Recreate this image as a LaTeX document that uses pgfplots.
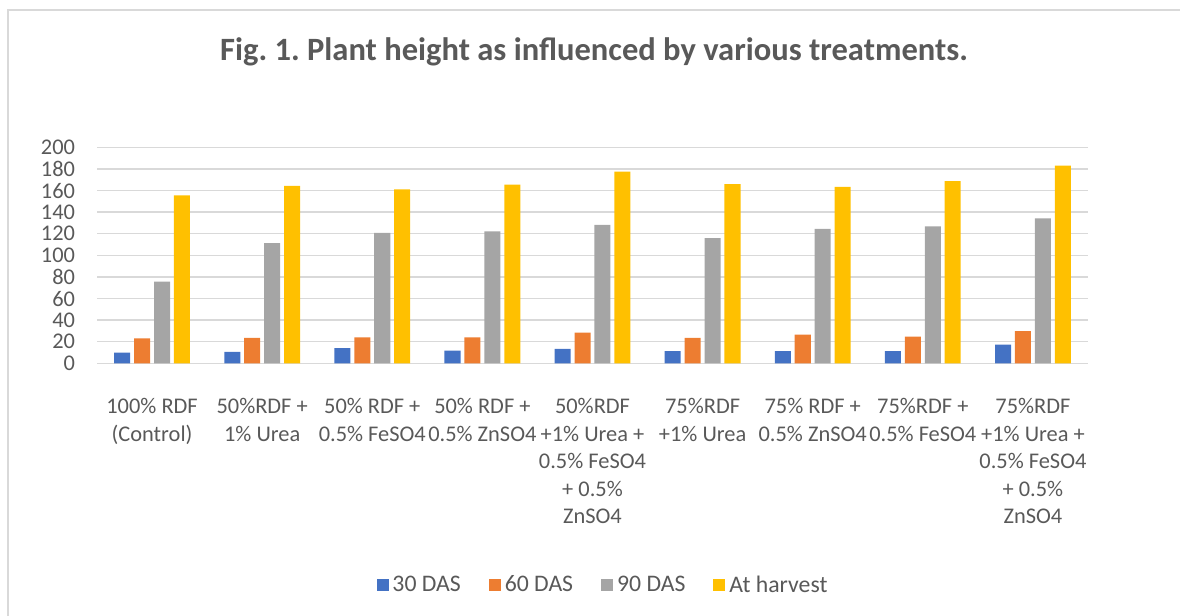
\documentclass[border=0pt]{standalone}
\usepackage{pgfplots}
\pgfplotsset{compat=1.18}
\usepackage{fontspec}
\setmainfont{Carlito}
\frenchspacing
\definecolor{txt}{HTML}{595959}
\definecolor{grd}{HTML}{D9D9D9}
\definecolor{c1}{HTML}{4472C4}
\definecolor{c2}{HTML}{ED7D31}
\definecolor{c3}{HTML}{A5A5A5}
\definecolor{c4}{HTML}{FFC000}
\begin{document}
\begin{tikzpicture}[x=0.75pt,y=0.75pt]
\useasboundingbox (0,0) rectangle (1180,616);
\draw[grd, line width=1.5pt] (8,0) -- (8,606) -- (1180,606);
\node[txt, font=\fontsize{24.4}{29}\selectfont\bfseries] at (594,564) {Fig. 1. Plant height as influenced by various treatments.};
\begin{axis}[
  at={(72.75pt,189.5pt)}, anchor=south west,
  scale only axis, width=743.25pt, height=162pt,
  xmin=-0.5, xmax=8.5, ymin=0, ymax=200,
  ytick={0,20,...,200},
  xtick={0,...,8},
  xticklabels={{100\% RDF\\(Control)},{50\%RDF +\\1\% Urea},{50\% RDF +\\0.5\% FeSO4},{50\% RDF +\\0.5\% ZnSO4},{50\%RDF\\+1\% Urea +\\0.5\% FeSO4\\+ 0.5\%\\ZnSO4},{75\%RDF\\+1\% Urea},{75\% RDF +\\0.5\% ZnSO4},{75\%RDF +\\0.5\% FeSO4},{75\%RDF\\+1\% Urea +\\0.5\% FeSO4\\+ 0.5\%\\ZnSO4}},
  axis line style={draw=none},
  major tick length=0pt,
  ymajorgrids, grid style={grd, line width=1.1pt},
  tick label style={txt, font=\fontsize{16.8}{20.6}\selectfont},
  xticklabel style={align=center, anchor=north, yshift=-23pt},
  yticklabel style={anchor=east, xshift=-13pt},
  /pgf/number format/assume math mode=true,
  ybar, bar width=0.1456,
  legend columns=4,
  legend style={draw=none, at={(0.5116,-1.026)}, anchor=center, font=\fontsize{17.8}{20}\selectfont, text=txt, /tikz/every even column/.append style={column sep=18pt}, nodes={inner xsep=3pt}},
  legend image code/.code={\fill[#1] (0pt,-4.5pt) rectangle (9pt,4.5pt);},
]
\addplot[fill=c1, draw=none, bar shift=-0.2715] coordinates {(0,10) (1,10.5) (2,14) (3,11.7) (4,13.3) (5,11.4) (6,11.4) (7,11.4) (8,17.3)};
\addplot[fill=c2, draw=none, bar shift=-0.0905] coordinates {(0,23) (1,23.5) (2,24.1) (3,24.1) (4,28.4) (5,23.5) (6,26.5) (7,24.7) (8,29.9)};
\addplot[fill=c3, draw=none, bar shift=0.0905] coordinates {(0,75.6) (1,111.4) (2,120.7) (3,122.2) (4,128.1) (5,116) (6,124.4) (7,126.9) (8,134.3)};
\addplot[fill=c4, draw=none, bar shift=0.2715] coordinates {(0,155.6) (1,164.2) (2,161.1) (3,165.4) (4,177.5) (5,166) (6,163.3) (7,168.8) (8,183)};
\legend{30 DAS, 60 DAS, 90 DAS, At harvest}
\end{axis}
\end{tikzpicture}
\end{document}
